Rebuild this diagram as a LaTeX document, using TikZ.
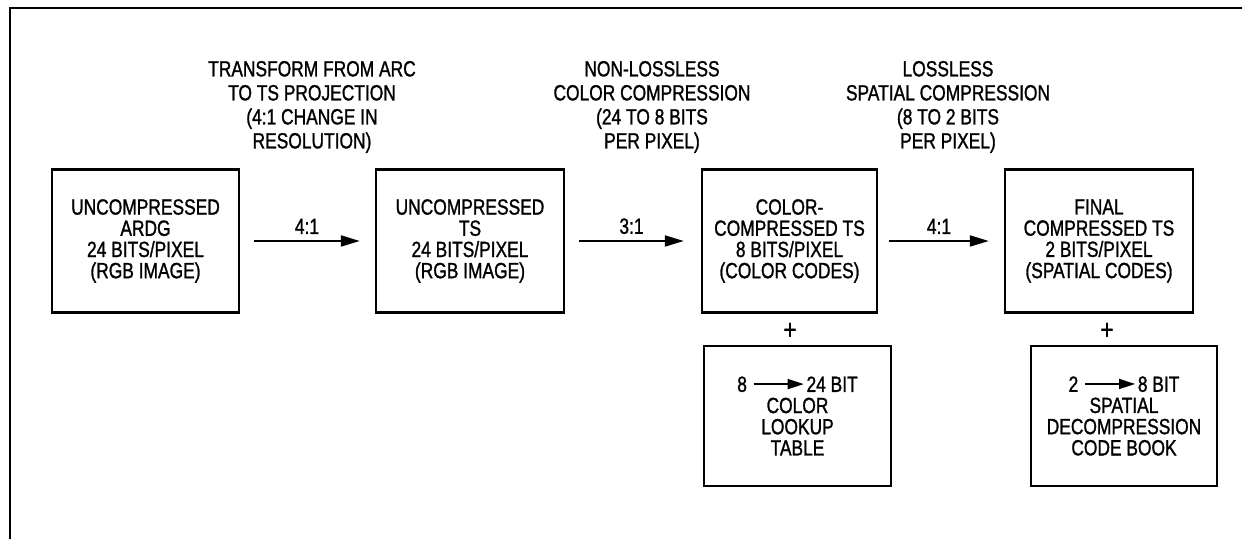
\documentclass[tikz,border=0pt]{standalone}
\usepackage{fontspec}
\setmainfont[FakeStretch=0.79,FakeBold=1.2]{Liberation Sans}
\usetikzlibrary{arrows.meta}
\newcommand{\bitarrow}{\tikz[baseline={(0pt,-3.9pt)}]\draw[line width=0.8pt,-{Triangle[length=8pt,width=5pt]}] (0pt,0pt) -- (25pt,0pt);}
\begin{document}
\begin{tikzpicture}[x=0.5pt,y=-0.5pt,
  box/.style={draw,line width=1.2pt,minimum height=71.5pt,inner sep=0pt,align=center,font=\fontsize{11}{10.6}\selectfont},
  note/.style={align=center,inner sep=0pt,font=\fontsize{11}{12}\selectfont},
  ratio/.style={inner sep=0pt,font=\fontsize{11}{12}\selectfont},
  link/.style={line width=1pt,-{Triangle[length=9.5pt,width=5.5pt]}}]
\useasboundingbox (0,0) rectangle (1242,539);
\draw[line width=1.3pt] (1242,8) -- (10,8) -- (10,539);

\node[note] (lblproj) at (312,107) {TRANSFORM FROM ARC\\TO TS PROJECTION\\(4:1 CHANGE IN\\RESOLUTION)};
\node[note] (lblcolor) at (652,107) {NON-LOSSLESS\\COLOR COMPRESSION\\(24 TO 8 BITS\\PER PIXEL)};
\node[note] (lblspatial) at (948,107) {LOSSLESS\\SPATIAL COMPRESSION\\(8 TO 2 BITS\\PER PIXEL)};

\node[box,minimum width=93.5pt] (ardg) at (145.5,241) {UNCOMPRESSED\\ARDG\\24 BITS/PIXEL\\(RGB IMAGE)};
\node[box,minimum width=94pt] (tsraw) at (470,241) {UNCOMPRESSED\\TS\\24 BITS/PIXEL\\(RGB IMAGE)};
\node[box,minimum width=87.5pt] (tscolor) at (789.5,241) {COLOR-\\COMPRESSED TS\\8 BITS/PIXEL\\(COLOR CODES)};
\node[box,minimum width=94pt] (tsfinal) at (1099,241) {FINAL\\COMPRESSED TS\\2 BITS/PIXEL\\(SPATIAL CODES)};

\draw[link] ([xshift=7pt]ardg.east) -- ([xshift=-7.5pt]tsraw.west) node[ratio,midway,above=3pt] {4:1};
\draw[link] ([xshift=7pt]tsraw.east) -- ([xshift=-8.5pt]tscolor.west) node[ratio,midway,above=3pt] {3:1};
\draw[link] ([xshift=5.5pt]tscolor.east) -- ([xshift=-7.5pt]tsfinal.west) node[ratio,midway,above=3pt] {4:1};

\node[ratio,font=\fontsize{14}{14}\selectfont] (plusa) at (790,331) {+};
\node[ratio,font=\fontsize{14}{14}\selectfont] (plusb) at (1107,331) {+};

\node[box,minimum width=93.5pt,minimum height=70pt] (lut) at (797.5,416) {8\hspace{3pt}\bitarrow\hspace{1pt}24 BIT\\COLOR\\LOOKUP\\TABLE};
\node[box,minimum width=93pt,minimum height=70pt] (codebook) at (1124,416) {2\hspace{3pt}\bitarrow\hspace{1pt}8 BIT\\SPATIAL\\DECOMPRESSION\\CODE BOOK};

\end{tikzpicture}
\end{document}
